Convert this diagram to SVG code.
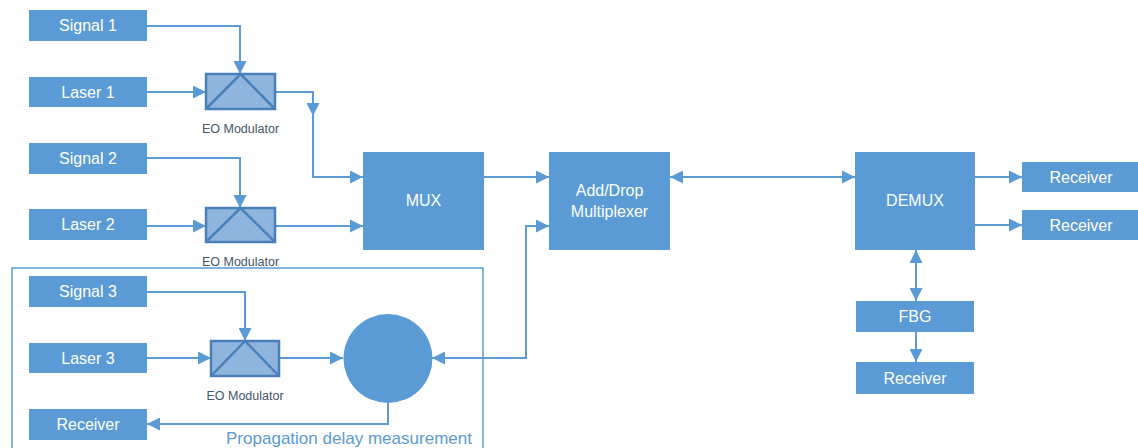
<svg xmlns="http://www.w3.org/2000/svg" width="1138" height="448" viewBox="0 0 1138 448">
  <style>
    .box { fill: #5b9bd5; }
    .lbl { font-family: "Liberation Sans", Arial, sans-serif; font-size: 16px; fill: #ffffff; text-anchor: middle; dominant-baseline: central; }
    .mod { fill: #8fb4de; stroke: #4a80ba; stroke-width: 2.5; }
    .moddiag { fill: none; stroke: #4a80ba; stroke-width: 2.5; }
    .modlbl { font-family: "Liberation Sans", Arial, sans-serif; font-size: 12.5px; fill: #44546a; text-anchor: middle; }
    .wire-a { fill: none; stroke: #5b9bd5; stroke-width: 2; marker-end: url(#arr); }
    .wire-b { fill: none; stroke: #5b9bd5; stroke-width: 2; marker-start: url(#arr); marker-end: url(#arr); }
    .frame { fill: none; stroke: #5b9bd5; stroke-width: 1.5; }
    .caption { font-family: "Liberation Sans", Arial, sans-serif; font-size: 17px; fill: #5b9bd5; }
  </style>
  <defs>
    <marker id="arr" markerUnits="userSpaceOnUse" markerWidth="13" markerHeight="13" refX="13" refY="6.5" orient="auto-start-reverse">
      <path d="M0,0 L13,6.5 L0,13 z" fill="#5b9bd5"/>
    </marker>
  </defs>

  <!-- measurement frame -->
  <rect class="frame" x="12" y="268" width="471" height="200"/>
  <text class="caption" x="226" y="444" textLength="246">Propagation delay measurement</text>

  <!-- connectors -->
  <g id="connectors">
    <path class="wire-a" d="M147,26 H240 V74"/>
    <path class="wire-a" d="M147,92 H206"/>
    <path class="wire-a" d="M275,92 H313 V116"/>
    <path class="wire-a" d="M313,115 V177 H363"/>
    <path class="wire-a" d="M147,158 H240 V208"/>
    <path class="wire-a" d="M147,226 H206"/>
    <path class="wire-a" d="M275,226 H363"/>
    <path class="wire-a" d="M484,177 H549"/>
    <path class="wire-b" d="M670,177 H855"/>
    <path class="wire-a" d="M975,177 H1022"/>
    <path class="wire-a" d="M975,225 H1022"/>
    <path class="wire-b" d="M916,250 V301"/>
    <path class="wire-a" d="M916,332 V362"/>
    <path class="wire-a" d="M147,292 H245 V341"/>
    <path class="wire-a" d="M147,358 H211"/>
    <path class="wire-a" d="M279,358 H343"/>
    <path class="wire-b" d="M549,226 H526 V358 H432"/>
    <path class="wire-a" d="M388,403 V424 H147"/>
  </g>

  <!-- sources -->
  <g id="signal1"><rect class="box" x="29" y="10" width="118" height="31"/><text class="lbl" x="88" y="25.5">Signal 1</text></g>
  <g id="laser1"><rect class="box" x="29" y="77" width="118" height="30"/><text class="lbl" x="88" y="92">Laser 1</text></g>
  <g id="signal2"><rect class="box" x="29" y="143" width="118" height="31"/><text class="lbl" x="88" y="158.5">Signal 2</text></g>
  <g id="laser2"><rect class="box" x="29" y="209" width="118" height="31"/><text class="lbl" x="88" y="224.5">Laser 2</text></g>
  <g id="signal3"><rect class="box" x="29" y="276" width="118" height="31"/><text class="lbl" x="88" y="291.5">Signal 3</text></g>
  <g id="laser3"><rect class="box" x="29" y="343" width="118" height="30"/><text class="lbl" x="88" y="358">Laser 3</text></g>
  <g id="receiver-local"><rect class="box" x="29" y="409" width="118" height="31"/><text class="lbl" x="88" y="424.5">Receiver</text></g>

  <!-- modulators -->
  <g id="eo-mod1">
    <rect class="mod" x="206" y="74" width="69" height="35"/>
    <path class="moddiag" d="M206,109 L240.5,74 L275,109"/>
    <text class="modlbl" x="240.5" y="133">EO Modulator</text>
  </g>
  <g id="eo-mod2">
    <rect class="mod" x="206" y="208" width="69" height="34"/>
    <path class="moddiag" d="M206,242 L240.5,208 L275,242"/>
    <text class="modlbl" x="240.5" y="266">EO Modulator</text>
  </g>
  <g id="eo-mod3">
    <rect class="mod" x="211" y="341" width="68" height="35"/>
    <path class="moddiag" d="M211,376 L245,341 L279,376"/>
    <text class="modlbl" x="245" y="400">EO Modulator</text>
  </g>

  <!-- splitter -->
  <g id="coupler"><circle class="box" cx="388" cy="358.5" r="44.5"/></g>

  <!-- network blocks -->
  <g id="mux"><rect class="box" x="363" y="152" width="121" height="98"/><text class="lbl" x="423.5" y="200">MUX</text></g>
  <g id="add-drop"><rect class="box" x="549" y="152" width="121" height="98"/><text class="lbl" x="609.5" y="190">Add/Drop</text><text class="lbl" x="609.5" y="211">Multiplexer</text></g>
  <g id="demux"><rect class="box" x="855" y="152" width="120" height="98"/><text class="lbl" x="915" y="200">DEMUX</text></g>
  <g id="receiver1"><rect class="box" x="1022" y="162" width="120" height="30"/><text class="lbl" x="1081" y="177">Receiver</text></g>
  <g id="receiver2"><rect class="box" x="1022" y="210" width="120" height="30"/><text class="lbl" x="1081" y="225">Receiver</text></g>
  <g id="fbg"><rect class="box" x="856" y="301" width="118" height="31"/><text class="lbl" x="915" y="316.5">FBG</text></g>
  <g id="receiver3"><rect class="box" x="856" y="362" width="118" height="32"/><text class="lbl" x="915" y="378">Receiver</text></g>
</svg>
